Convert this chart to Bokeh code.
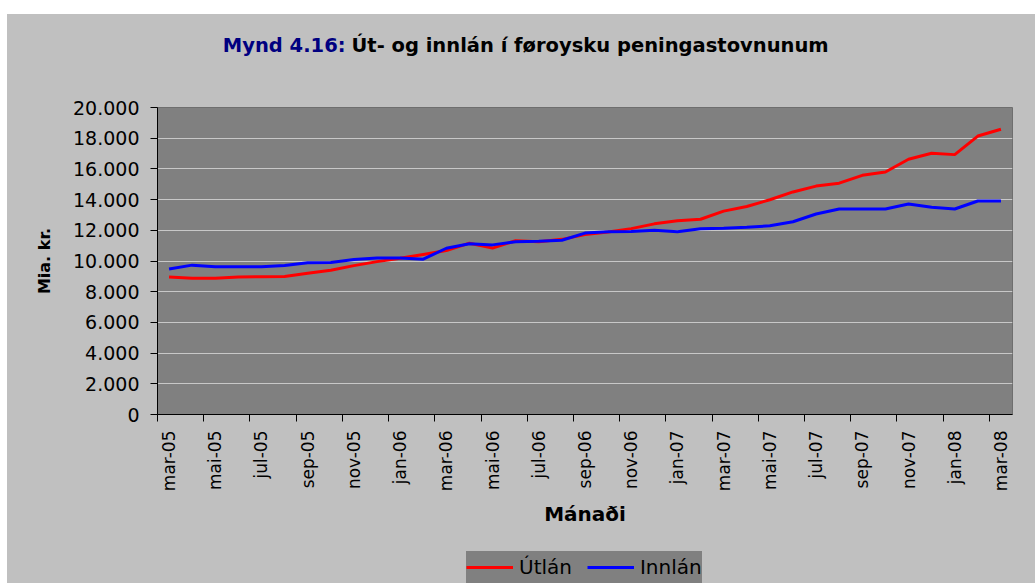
import math
from bokeh.plotting import figure
from bokeh.models import FixedTicker, Legend, LegendItem, Spacer, Label
from bokeh.layouts import column, row
from bokeh.embed import file_html
from bokeh.resources import INLINE

months = ["mar-05", "apr-05", "mai-05", "jun-05", "jul-05", "aug-05", "sep-05", "okt-05",
          "nov-05", "des-05", "jan-06", "feb-06", "mar-06", "apr-06", "mai-06", "jun-06",
          "jul-06", "aug-06", "sep-06", "okt-06", "nov-06", "des-06", "jan-07", "feb-07",
          "mar-07", "apr-07", "mai-07", "jun-07", "jul-07", "aug-07", "sep-07", "okt-07",
          "nov-07", "des-07", "jan-08", "feb-08", "mar-08"]

utlan = [8960, 8880, 8880, 8960, 8970, 8990, 9200, 9400, 9700, 9960, 10180, 10430,
         10680, 11160, 10840, 11320, 11260, 11410, 11720, 11890, 12110, 12420, 12620,
         12720, 13250, 13550, 13990, 14500, 14880, 15070, 15580, 15800, 16630, 17020,
         16930, 18140, 18580]

innlan = [9480, 9730, 9620, 9620, 9620, 9700, 9880, 9900, 10100, 10200, 10200, 10120,
          10830, 11130, 11050, 11250, 11290, 11350, 11820, 11900, 11920, 12010, 11900,
          12100, 12130, 12200, 12290, 12560, 13060, 13390, 13390, 13390, 13710, 13500,
          13390, 13910, 13910]

y_ticks = [0, 2000, 4000, 6000, 8000, 10000, 12000, 14000, 16000, 18000, 20000]
y_tick_labels = ["0", "2.000", "4.000", "6.000", "8.000", "10.000", "12.000",
                 "14.000", "16.000", "18.000", "20.000"]

series_names = ["Útlán", "Innlán"]
series_colors = ["#FF0000", "#0000FF"]
title_part1 = "Mynd 4.16:"
title_part2 = "Út- og innlán í føroysku peningastovnunum"
x_title = "Mánaði"
y_title = "Mia. kr."

FONT = "DejaVu Sans"
BG = "#C0C0C0"
PLOT_BG = "#808080"
n = len(months)
xs = list(range(n))

W = 1028
BL, BR = 150, 23          # left / right borders shared by all three strips
FW = W - BL - BR          # frame width (855)


def strip(height):
    f = figure(width=W, height=height, output_backend="svg", toolbar_location=None,
               x_range=(0, FW), y_range=(0, height), x_axis_location=None,
               y_axis_location=None, min_border_left=BL, min_border_right=BR,
               min_border_top=0, min_border_bottom=0)
    f.title.visible = False
    f.background_fill_color = BG
    f.border_fill_color = BG
    f.outline_line_color = None
    f.grid.visible = False
    return f


# ---- title strip ----
TH = 66
tfig = strip(TH)
tfig.add_layout(Label(x=188, y=35, text=title_part1, text_font=FONT, text_font_style="bold",
                      text_font_size="19.5px", text_color="#000080", text_align="right",
                      text_baseline="alphabetic"))
tfig.add_layout(Label(x=194, y=35, text=title_part2, text_font=FONT, text_font_style="bold",
                      text_font_size="19.5px", text_color="black", text_align="left",
                      text_baseline="alphabetic"))

# ---- main chart ----
p = figure(width=W, height=471, output_backend="svg", toolbar_location=None,
           x_range=(-0.5, n - 0.5), y_range=(0, 20000),
           min_border_left=BL, min_border_right=BR, min_border_top=27, min_border_bottom=137)
p.title.visible = False
p.background_fill_color = PLOT_BG
p.border_fill_color = BG
p.outline_line_color = "#6E6E6E"
p.outline_line_width = 1

p.line(xs, utlan, line_color=series_colors[0], line_width=3)
p.line(xs, innlan, line_color=series_colors[1], line_width=3)

major = [i for i in range(0, n, 2)]
minor = [i - 0.5 for i in range(0, n, 2)]
p.xaxis.ticker = FixedTicker(ticks=major, minor_ticks=minor)
p.xaxis.major_label_overrides = {i: months[i] for i in major}
p.xaxis.major_label_orientation = math.pi / 2
p.xaxis.major_tick_line_color = None
p.xaxis.minor_tick_line_color = "black"
p.xaxis.minor_tick_in = 0
p.xaxis.minor_tick_out = 7
p.xaxis.major_tick_out = 7
p.xaxis.major_tick_in = 0
p.xaxis.major_label_standoff = 9
p.xaxis.major_label_text_font = FONT
p.xaxis.major_label_text_font_size = "17px"
p.xaxis.major_label_text_color = "black"
p.xaxis.axis_line_color = "black"
p.xaxis.axis_label = x_title
p.xaxis.axis_label_text_font = FONT
p.xaxis.axis_label_text_font_style = "bold"
p.xaxis.axis_label_text_font_size = "20px"
p.xaxis.axis_label_text_color = "black"
p.xaxis.axis_label_standoff = 8

p.yaxis.ticker = FixedTicker(ticks=y_ticks, minor_ticks=[])
p.yaxis.major_label_overrides = {t: l for t, l in zip(y_ticks, y_tick_labels)}
p.yaxis.major_tick_in = 0
p.yaxis.major_tick_out = 7
p.yaxis.major_tick_line_color = "black"
p.yaxis.minor_tick_line_color = None
p.yaxis.major_label_standoff = 11
p.yaxis.major_label_text_font = FONT
p.yaxis.major_label_text_font_size = "19px"
p.yaxis.major_label_text_color = "black"
p.yaxis.axis_line_color = "black"
p.yaxis.axis_label = y_title
p.yaxis.axis_label_text_font = FONT
p.yaxis.axis_label_text_font_style = "bold"
p.yaxis.axis_label_text_font_size = "16px"
p.yaxis.axis_label_text_color = "black"
p.yaxis.axis_label_standoff = 16

p.xgrid.grid_line_color = None
p.ygrid.grid_line_color = "#C8C8C8"
p.ygrid.grid_line_width = 1

# ---- legend strip (series keys; the key renderers are hidden in this strip) ----
LH = 32
lfig = strip(LH)
k1 = lfig.line(xs, utlan, line_color=series_colors[0], line_width=3, visible=False)
k2 = lfig.line(xs, innlan, line_color=series_colors[1], line_width=3, visible=False)
legend = Legend(items=[LegendItem(label=series_names[0], renderers=[k1]),
                       LegendItem(label=series_names[1], renderers=[k2])],
                location=(309, 0), orientation="horizontal",
                background_fill_color=PLOT_BG, background_fill_alpha=1.0,
                border_line_color=None, label_text_font=FONT, label_text_font_size="20px",
                label_text_color="black", glyph_width=47, glyph_height=32,
                label_standoff=6, spacing=15, padding=7, margin=0)
lfig.add_layout(legend)

inner = column(tfig, p, lfig, styles={"background-color": BG})
layout = column(Spacer(width=1035, height=14),
                row(Spacer(width=7, height=569), inner))
open("out.html", "w").write(file_html(layout, INLINE))
